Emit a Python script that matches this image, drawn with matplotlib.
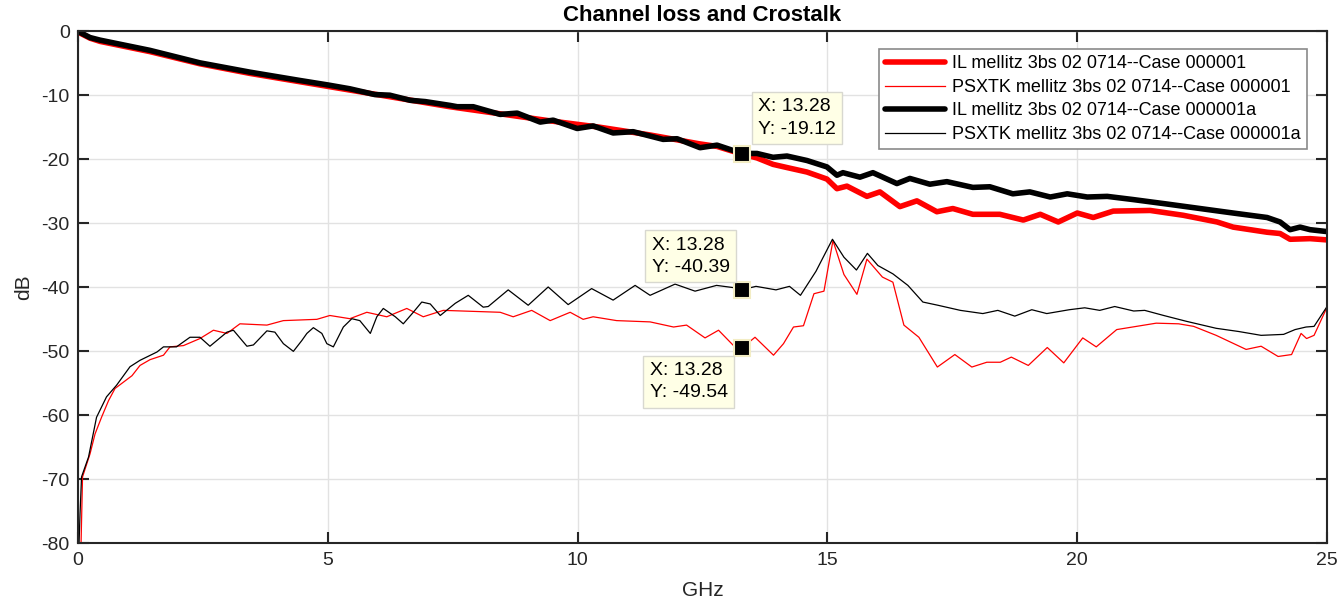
import matplotlib
matplotlib.use("Agg")
import matplotlib.pyplot as plt

plt.rcParams["font.family"] = ["Liberation Sans", "DejaVu Sans"]
plt.rcParams["axes.unicode_minus"] = False

# IL, case 000001 (red, thick)
il_r_x = [0.00, 0.04, 0.24, 0.44, 1.44, 2.44, 3.44, 4.44, 5.44, 6.44, 7.44, 8.44,
          9.44, 10.44, 11.44, 12.44, 12.79, 13.29, 13.59, 13.91, 14.19, 14.59,
          14.99, 15.19, 15.39, 15.79, 16.05, 16.45, 16.79, 17.19, 17.51, 17.91,
          18.45, 18.92, 19.26, 19.62, 20.00, 20.32, 20.72, 21.46, 22.12, 22.80,
          23.12, 23.80, 24.06, 24.26, 24.66, 25.00]
il_r_y = [0.0, -0.3, -1.1, -1.6, -3.2, -5.1, -6.6, -7.9, -9.2, -10.5, -11.8, -12.9,
          -14.0, -15.0, -16.2, -17.6, -18.0, -19.2, -19.8, -20.8, -21.3, -22.0,
          -23.1, -24.6, -24.2, -25.8, -25.1, -27.4, -26.5, -28.2, -27.7, -28.6,
          -28.6, -29.5, -28.6, -29.8, -28.4, -29.1, -28.1, -28.0, -28.75, -29.8,
          -30.6, -31.4, -31.6, -32.5, -32.4, -32.6]

# IL, case 000001a (black, thick)
il_b_x = [0.00, 0.04, 0.24, 0.44, 1.44, 2.44, 3.44, 4.44, 5.00, 5.44, 5.94, 6.24,
          6.65, 6.95, 7.45, 7.59, 7.91, 8.45, 8.79, 9.25, 9.51, 9.99, 10.31, 10.71,
          11.11, 11.71, 11.99, 12.45, 12.79, 13.29, 13.59, 13.91, 14.19, 14.59,
          14.99, 15.19, 15.31, 15.65, 15.91, 16.39, 16.65, 17.05, 17.39, 17.91,
          18.25, 18.71, 19.05, 19.46, 19.80, 20.20, 20.60, 21.12, 21.80, 22.46,
          23.12, 23.80, 24.06, 24.26, 24.46, 24.66, 25.00]
il_b_y = [0.0, -0.2, -1.0, -1.4, -3.0, -4.95, -6.4, -7.7, -8.4, -9.0, -9.9, -10.0,
          -10.8, -11.0, -11.6, -11.8, -11.8, -13.0, -12.8, -14.2, -13.9, -15.2, -14.8,
          -15.9, -15.7, -16.9, -16.8, -18.2, -17.8, -19.1, -19.1, -19.7, -19.5, -20.2,
          -21.2, -22.5, -22.1, -22.8, -22.1, -23.8, -23.0, -23.9, -23.5, -24.4,
          -24.3, -25.4, -25.1, -25.9, -25.4, -25.9, -25.8, -26.3, -27.0, -27.7,
          -28.4, -29.1, -29.8, -31.0, -30.6, -31.0, -31.3]

# PSXTK, case 000001 (red, thin)
ps_r_x = [0.06, 0.09, 0.24, 0.34, 0.47, 0.61, 0.74, 0.91, 1.08, 1.24, 1.44, 1.71,
          1.84, 2.11, 2.44, 2.71, 2.98, 3.24, 3.78, 4.11, 4.78, 5.04, 5.44, 5.78,
          6.18, 6.58, 6.91, 7.31, 8.45, 8.71, 9.08, 9.45, 9.85, 10.11, 10.31,
          10.78, 11.45, 11.92, 12.18, 12.55, 12.82, 13.12, 13.28, 13.55, 13.92,
          14.12, 14.32, 14.52, 14.73, 14.93, 15.11, 15.33, 15.59, 15.79, 16.10,
          16.31, 16.53, 16.83, 17.20, 17.55, 17.89, 18.19, 18.46, 18.68, 19.02,
          19.40, 19.73, 20.11, 20.38, 20.79, 21.58, 22.03, 22.33, 22.78, 23.38,
          23.68, 24.02, 24.29, 24.48, 24.59, 24.74, 25.00]
ps_r_y = [-80.0, -69.6, -66.0, -62.9, -60.3, -57.7, -55.8, -54.8, -53.8, -52.2,
          -51.3, -50.6, -49.3, -49.1, -48.0, -46.7, -47.2, -45.7, -45.9, -45.2,
          -45.0, -44.4, -44.9, -43.9, -44.6, -43.3, -44.6, -43.6, -43.9, -44.6,
          -43.6, -45.2, -43.9, -45.0, -44.6, -45.2, -45.4, -46.2, -45.9, -47.9,
          -46.7, -49.1, -49.54, -47.8, -50.6, -48.8, -46.2, -46.0, -41.0, -40.6,
          -32.7, -38.0, -41.1, -35.6, -38.4, -39.2, -45.9, -47.8, -52.45, -50.5,
          -52.45, -51.7, -51.7, -50.9, -52.2, -49.4, -51.8, -47.9, -49.3, -46.6,
          -45.6, -45.7, -46.1, -47.5, -49.7, -49.2, -50.8, -50.5, -47.2, -48.0,
          -47.5, -43.1]

# PSXTK, case 000001a (black, thin)
ps_b_x = [0.02, 0.04, 0.07, 0.21, 0.37, 0.57, 0.77, 1.04, 1.24, 1.58, 1.71, 1.97,
          2.24, 2.44, 2.64, 2.98, 3.11, 3.38, 3.51, 3.78, 3.94, 4.11, 4.31, 4.48,
          4.58, 4.71, 4.88, 4.98, 5.11, 5.31, 5.48, 5.64, 5.85, 5.98, 6.11, 6.35,
          6.51, 6.71, 6.88, 7.05, 7.25, 7.55, 7.81, 8.11, 8.21, 8.61, 9.01, 9.41,
          9.81, 10.28, 10.71, 11.15, 11.45, 11.95, 12.35, 12.78, 13.12, 13.28,
          13.57, 13.97, 14.24, 14.46, 14.77, 15.10, 15.33, 15.58, 15.80, 16.01,
          16.31, 16.61, 16.91, 17.21, 17.66, 18.11, 18.41, 18.75, 19.09, 19.39,
          19.84, 20.15, 20.45, 20.75, 21.13, 21.35, 21.73, 22.18, 22.78, 23.23,
          23.68, 24.13, 24.36, 24.58, 24.74, 25.00]
ps_b_y = [-80.0, -75.3, -69.6, -66.5, -60.3, -57.1, -55.3, -52.4, -51.4, -50.1,
          -49.3, -49.3, -47.8, -47.8, -49.2, -47.0, -46.7, -49.2, -49.0, -46.8,
          -47.0, -48.8, -50.0, -48.3, -47.2, -46.3, -47.2, -48.8, -49.3, -46.2,
          -44.9, -45.2, -47.2, -44.6, -43.3, -44.6, -45.7, -43.9, -42.3, -42.6,
          -44.4, -42.5, -41.25, -43.1, -43.0, -40.4, -42.8, -39.95, -42.7, -40.2,
          -42.0, -39.7, -41.25, -39.5, -40.6, -39.7, -40.05, -40.39, -39.85, -40.4,
          -39.85, -41.25, -37.5, -32.5, -35.3, -37.3, -34.7, -36.6, -37.9, -39.7,
          -42.3, -42.8, -43.6, -44.1, -43.6, -44.5, -43.5, -44.1, -43.5, -43.2,
          -43.6, -43.0, -43.7, -43.6, -44.4, -45.3, -46.4, -46.9, -47.5, -47.35,
          -46.6, -46.2, -46.1, -43.0]

labels = ["IL mellitz 3bs 02 0714--Case 000001",
          "PSXTK mellitz 3bs 02 0714--Case 000001",
          "IL mellitz 3bs 02 0714--Case 000001a",
          "PSXTK mellitz 3bs 02 0714--Case 000001a"]

tip_x = [13.28, 13.28, 13.28]
tip_y = [-19.12, -40.39, -49.54]

fig = plt.figure(figsize=(13.41, 5.99), dpi=100)
ax = fig.add_axes([0.0582, 0.0927, 0.9314, 0.8553])

ax.plot(il_r_x, il_r_y, color="red", lw=4.0, label=labels[0], solid_capstyle="round")
ax.plot(ps_r_x, ps_r_y, color="red", lw=0.9, label=labels[1])
ax.plot(il_b_x, il_b_y, color="black", lw=4.0, label=labels[2], solid_capstyle="round")
ax.plot(ps_b_x, ps_b_y, color="black", lw=0.9, label=labels[3])

# data tips
ax.plot(tip_x, tip_y, "s", color="black", ms=11, mec="#f3edc4", mew=1.5,
        linestyle="none", zorder=6)
tip_pos = [((12, 11.5), "left", "bottom"),
           ((-8.5, 10), "right", "bottom"),
           ((-10, -10), "right", "top")]
for tx, ty, (off, ha, va) in zip(tip_x, tip_y, tip_pos):
    ax.annotate(f"X: {tx:.2f}\nY: {ty:.2f}", xy=(tx, ty), xytext=off,
                textcoords="offset points", fontsize=14, va=va, ha=ha,
                multialignment="left", linespacing=1.4, zorder=7,
                bbox=dict(boxstyle="square,pad=0.32", fc="#ffffe6", ec="#d8d8d0", lw=1))

ax.set_xlim(0, 25)
ax.set_ylim(-80, 0)
ax.set_xticks([0, 5, 10, 15, 20, 25])
ax.set_yticks(range(-80, 1, 10))
ax.grid(True, color="#e2e2e2", lw=1)
ax.set_axisbelow(True)
ax.tick_params(direction="in", length=8, width=1.5, labelsize=14, colors="#262626",
               top=True, right=True, pad=6)
for s in ax.spines.values():
    s.set_color("#262626")
    s.set_linewidth(1.5)

ax.set_title("Channel loss and Crostalk", fontsize=16, fontweight="bold", pad=7)
ax.set_xlabel("GHz", fontsize=15, color="#262626", labelpad=9)
ax.set_ylabel("dB", fontsize=15, color="#262626", labelpad=6)

leg = ax.legend(loc="upper right", bbox_to_anchor=(0.984, 0.965), fontsize=13,
                frameon=True, fancybox=False, edgecolor="#8a8a8a", framealpha=1,
                handlelength=3.3, handletextpad=0.4, borderpad=0.35, labelspacing=0.36,
                borderaxespad=0)
leg.get_frame().set_linewidth(1.2)

fig.savefig("out.png", dpi=100)
